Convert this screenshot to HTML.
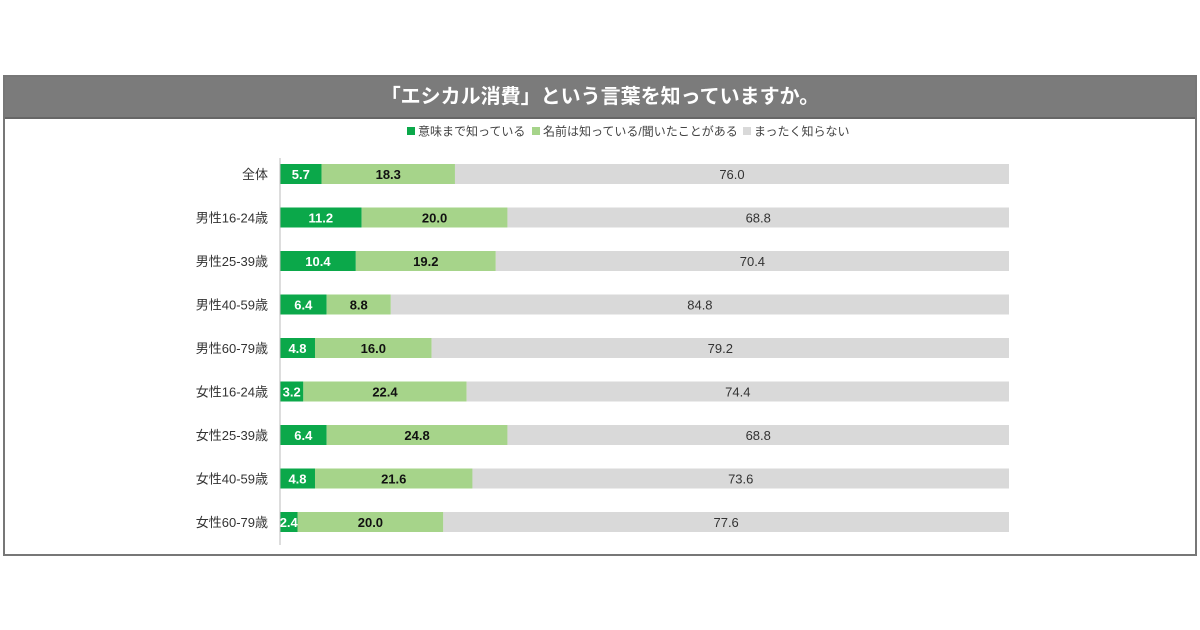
<!DOCTYPE html>
<html><head><meta charset="utf-8"><style>
body{margin:0;width:1200px;height:630px;background:#fff;font-family:"Liberation Sans","Noto Sans CJK JP",sans-serif;position:relative;overflow:hidden}
#frame{position:absolute;left:3px;top:75px;width:1190px;height:477px;border:2px solid #777}
#title{position:absolute;left:0;top:0;width:1190px;height:40px;background:#7b7b7b;color:#fff;font-size:20px;font-weight:bold;text-align:center;line-height:40px;border-bottom:2px solid #666}
</style></head><body>
<div id="frame">
<div id="title">「エシカル消費」という言葉を知っていますか。</div>
</div>
<svg id="chart" width="1200" height="630" style="position:absolute;left:0;top:0"></svg>
<script>
const categories=["全体","男性16-24歳","男性25-39歳","男性40-59歳","男性60-79歳","女性16-24歳","女性25-39歳","女性40-59歳","女性60-79歳"];
const know=[5.7,11.2,10.4,6.4,4.8,3.2,6.4,4.8,2.4];
const heard=[18.3,20.0,19.2,8.8,16.0,22.4,24.8,21.6,20.0];
const unknown=[76.0,68.8,70.4,84.8,79.2,74.4,68.8,73.6,77.6];
const seriesNames=["意味まで知っている","名前は知っている/聞いたことがある","まったく知らない"];
const colors=["#0ba84a","#a6d48a","#d9d9d9"];
const NS="http://www.w3.org/2000/svg",svg=document.getElementById('chart');
const x0=280,x1=1009;
const xs=v=>x0+(x1-x0)*v/100;
const yc=i=>174+i*43.5;
function mk(t,a){const e=document.createElementNS(NS,t);for(const k in a)e.setAttribute(k,a[k]);svg.appendChild(e);return e;}
// legend
let lx=407;
seriesNames.forEach((n,k)=>{
 const r=mk('rect',{x:lx,y:127,width:8,height:8,fill:colors[k]});
 
 
 const t=mk('text',{x:lx+11,y:135.5,'font-size':12,fill:'#444'});
 t.textContent=n;
 
 
 lx+=11+n.length*12+(k==1?-10:0)+6;
});
const series=[know,heard,unknown];
categories.forEach((c,i)=>{
 const y=yc(i);
 const l=mk('text',{x:268,y:y+5,'font-size':13,fill:'#333','text-anchor':'end'});
 l.textContent=c;
 
 
 let acc=0;
 series.forEach((s,k)=>{
  const v=s[i];
  const r=mk('rect',{x:xs(acc),y:y-10,width:xs(acc+v)-xs(acc),height:20,fill:colors[k]});
  
  
  const t=mk('text',{x:(xs(acc)+xs(acc+v))/2,y:y+5,'font-size':13,'text-anchor':'middle',fill:k==0?'#fff':(k==1?'#111':'#333'),'font-weight':k==2?'normal':'bold'});
  t.textContent=v.toFixed(1);
  
  
  acc+=v;
 });
});
const ax=mk('line',{x1:x0,y1:158,x2:x0,y2:545,stroke:'#bbb','stroke-width':1});


</script>
</body></html>
